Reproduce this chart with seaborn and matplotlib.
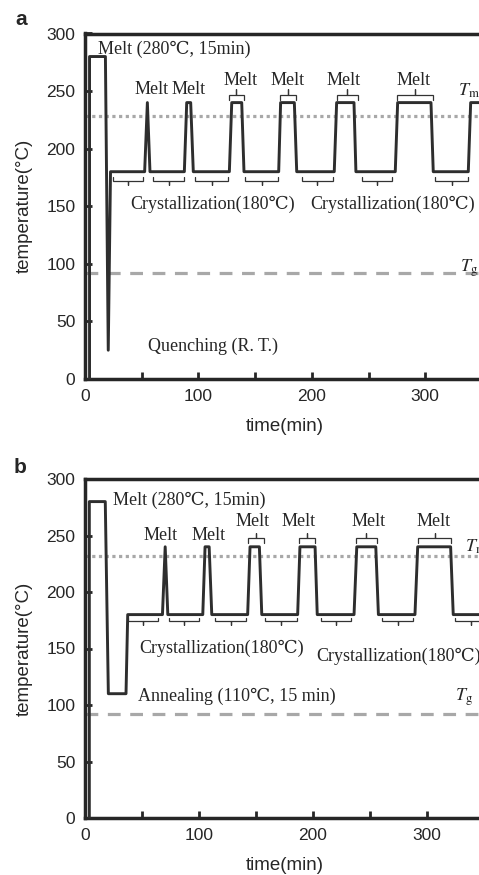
import numpy as np
import pandas as pd
import matplotlib
matplotlib.use("Agg")
import matplotlib.pyplot as plt
from matplotlib.ticker import FixedLocator, MultipleLocator
import seaborn as sns

# ─── Data ────────────────────────────────────────────────────────────────────
TIME_A = [4, 4, 18, 20.5, 22.5, 52.6, 55, 57.3, 87.6, 89.7, 93.2, 95.5,
          127.3, 129.4, 138.2, 140.2, 170.8, 172.5, 184.6, 186.7,
          219.8, 221.9, 237.2, 238.9, 273.6, 275.7, 305.1, 307.1, 338, 340.1, 400]
TEMP_A = [0, 280, 280, 25, 180, 180, 240, 180, 180, 240, 240, 180,
          180, 240, 240, 180, 180, 240, 240, 180,
          180, 240, 240, 180, 180, 240, 240, 180, 180, 240, 240]

TIME_B = [3.8, 3.8, 17.8, 20.5, 36, 37.5, 68, 70.4, 72.7, 103.4, 105.4, 109, 111.3,
          142.8, 144.9, 153.1, 155.2, 186.7, 188.7, 202, 203.9,
          236.2, 238.6, 255.3, 257.6, 289.7, 292.1, 321, 323.3, 400]
TEMP_B = [0, 280, 280, 110, 110, 180, 180, 240, 180, 180, 240, 240, 180,
          180, 240, 240, 180, 180, 240, 240, 180,
          180, 240, 240, 180, 180, 240, 240, 180, 180]

TM_A, TG_A = 228, 92
TM_B, TG_B = 232, 92

BELOW_A = [(24.4, 51.4), (60.2, 87.6), (97, 126.4), (141, 170.5),
           (191, 219), (244, 271), (308.6, 338)]
ABOVE_A = [(127, 140), (172, 186), (222, 240.6), (275, 306.6)]
BELOW_B = [(38, 64.5), (74, 100.5), (114, 141.6), (158.3, 186),
           (207, 233.7), (261, 288), (325, 352)]
ABOVE_B = [(143, 157), (188, 202), (237.5, 256.5), (292.6, 321.6)]

MELT_X_A = [58.8, 91.7, 137.4, 178.9, 228.4, 290]
MELT_Y_A = [251.7, 251.7, 259.5, 259.5, 259.5, 259.5]
MELT_X_B = [66.7, 108.2, 147.5, 187.7, 249.3, 306.4]
MELT_Y_B = [250.4, 250.4, 262.2, 262.2, 262.2, 262.2]

X_TICKS = [0, 100, 200, 300]
X_MINOR = [50, 150, 250, 350]

# ─── Style ───────────────────────────────────────────────────────────────────
sns.set_style("ticks")
plt.rcParams["font.family"] = ["Liberation Sans", "DejaVu Sans"]
plt.rcParams["mathtext.fontset"] = "stix"
SERIF = ["Liberation Serif", "DejaVu Serif"]
FS = 13
LINE = "#2e2e2e"
REF = "#a8a8a8"


def bracket(ax, x0, x1, y_arm, y_bar, y_tip):
    xm = (x0 + x1) / 2
    ax.plot([x0, x0, xm, xm, xm, x1, x1],
            [y_arm, y_bar, y_bar, y_tip, y_bar, y_bar, y_arm],
            color="#333333", lw=0.9, solid_joinstyle="miter")


def panel(ax, t, temp, tm, tg, below, above, ylev, melt_x, melt_y):
    df = pd.DataFrame({"time": t, "temp": temp})
    ax.axhline(tm, color=REF, lw=2.3, dashes=(1, 1.1), zorder=1)
    ax.axhline(tg, color=REF, lw=2.3, dashes=(4, 3), zorder=1)
    sns.lineplot(data=df, x="time", y="temp", sort=False, estimator=None,
                 color=LINE, lw=2.1, ax=ax, zorder=3)
    for x0, x1 in below:
        bracket(ax, x0, x1, *ylev[0])
    for x0, x1 in above:
        bracket(ax, x0, x1, *ylev[1])
    for x, y in zip(melt_x, melt_y):
        ax.text(x, y, "Melt", family=SERIF, fontsize=FS, ha="center", va="center")

    ax.set_xlim(0, 400)
    ax.set_ylim(0, 300)
    ax.xaxis.set_major_locator(FixedLocator(X_TICKS))
    ax.xaxis.set_minor_locator(FixedLocator(X_MINOR))
    ax.yaxis.set_major_locator(MultipleLocator(50))
    ax.tick_params(which="both", direction="in", length=5, width=2,
                   labelsize=12.5, pad=7)
    for s in ax.spines.values():
        s.set_linewidth(2.5)
    ax.set_xlabel("time(min)", fontsize=13.5)
    ax.set_ylabel("temperature(°C)", fontsize=13.5)


fig = plt.figure(figsize=(4.79, 8.75), dpi=100)
ax_a = fig.add_axes([85 / 479, 496 / 875, 453.6 / 479, 345.5 / 875])
ax_b = fig.add_axes([85 / 479, 57 / 875, 455.6 / 479, 339 / 875])

panel(ax_a, TIME_A, TEMP_A, TM_A, TG_A, BELOW_A, ABOVE_A,
      [(175, 172, 168.5), (242.5, 246.3, 251.5)], MELT_X_A, MELT_Y_A)
panel(ax_b, TIME_B, TEMP_B, TM_B, TG_B, BELOW_B, ABOVE_B,
      [(177, 174.5, 170.8), (243.5, 247.5, 252.5)], MELT_X_B, MELT_Y_B)

# panel a annotations
ax_a.text(11.7, 286.3, "Melt (280℃, 15min)", family=SERIF, fontsize=FS, va="center")
ax_a.text(112.5, 152, "Crystallization(180℃)", family=SERIF, fontsize=FS,
          ha="center", va="center")
ax_a.text(198.4, 152, "Crystallization(180℃)", family=SERIF, fontsize=FS, va="center")
ax_a.text(55.8, 28, "Quenching (R. T.)", family=SERIF, fontsize=FS, va="center")
ax_a.text(329, 250, r"$T_\mathrm{m}$", fontsize=13, va="center")
ax_a.text(330.7, 96.5, r"$T_\mathrm{g}$", fontsize=13, va="center")

# panel b annotations
ax_b.text(24.9, 280.8, "Melt (280℃, 15min)", family=SERIF, fontsize=FS, va="center")
ax_b.text(47.7, 150.4, "Crystallization(180℃)", family=SERIF, fontsize=FS, va="center")
ax_b.text(203.4, 142.7, "Crystallization(180℃)", family=SERIF, fontsize=FS, va="center")
ax_b.text(46.8, 107.3, "Annealing (110℃, 15 min)", family=SERIF, fontsize=FS, va="center")
ax_b.text(333.6, 240, r"$T_\mathrm{m}$", fontsize=13, va="center")
ax_b.text(325, 107, r"$T_\mathrm{g}$", fontsize=13, va="center")

for ax, w, h in ((ax_a, 453.6, 345.5), (ax_b, 455.6, 339)):
    ax.xaxis.set_label_coords((285 - 85) / w, -39 / h)
    ax.yaxis.set_label_coords(-52 / w, 0.5)

fig.text(15 / 479, 1 - 25 / 875, "a", fontsize=15, fontweight="bold")
fig.text(14 / 479, 1 - 473 / 875, "b", fontsize=15, fontweight="bold")

fig.savefig("out.png", dpi=100)
